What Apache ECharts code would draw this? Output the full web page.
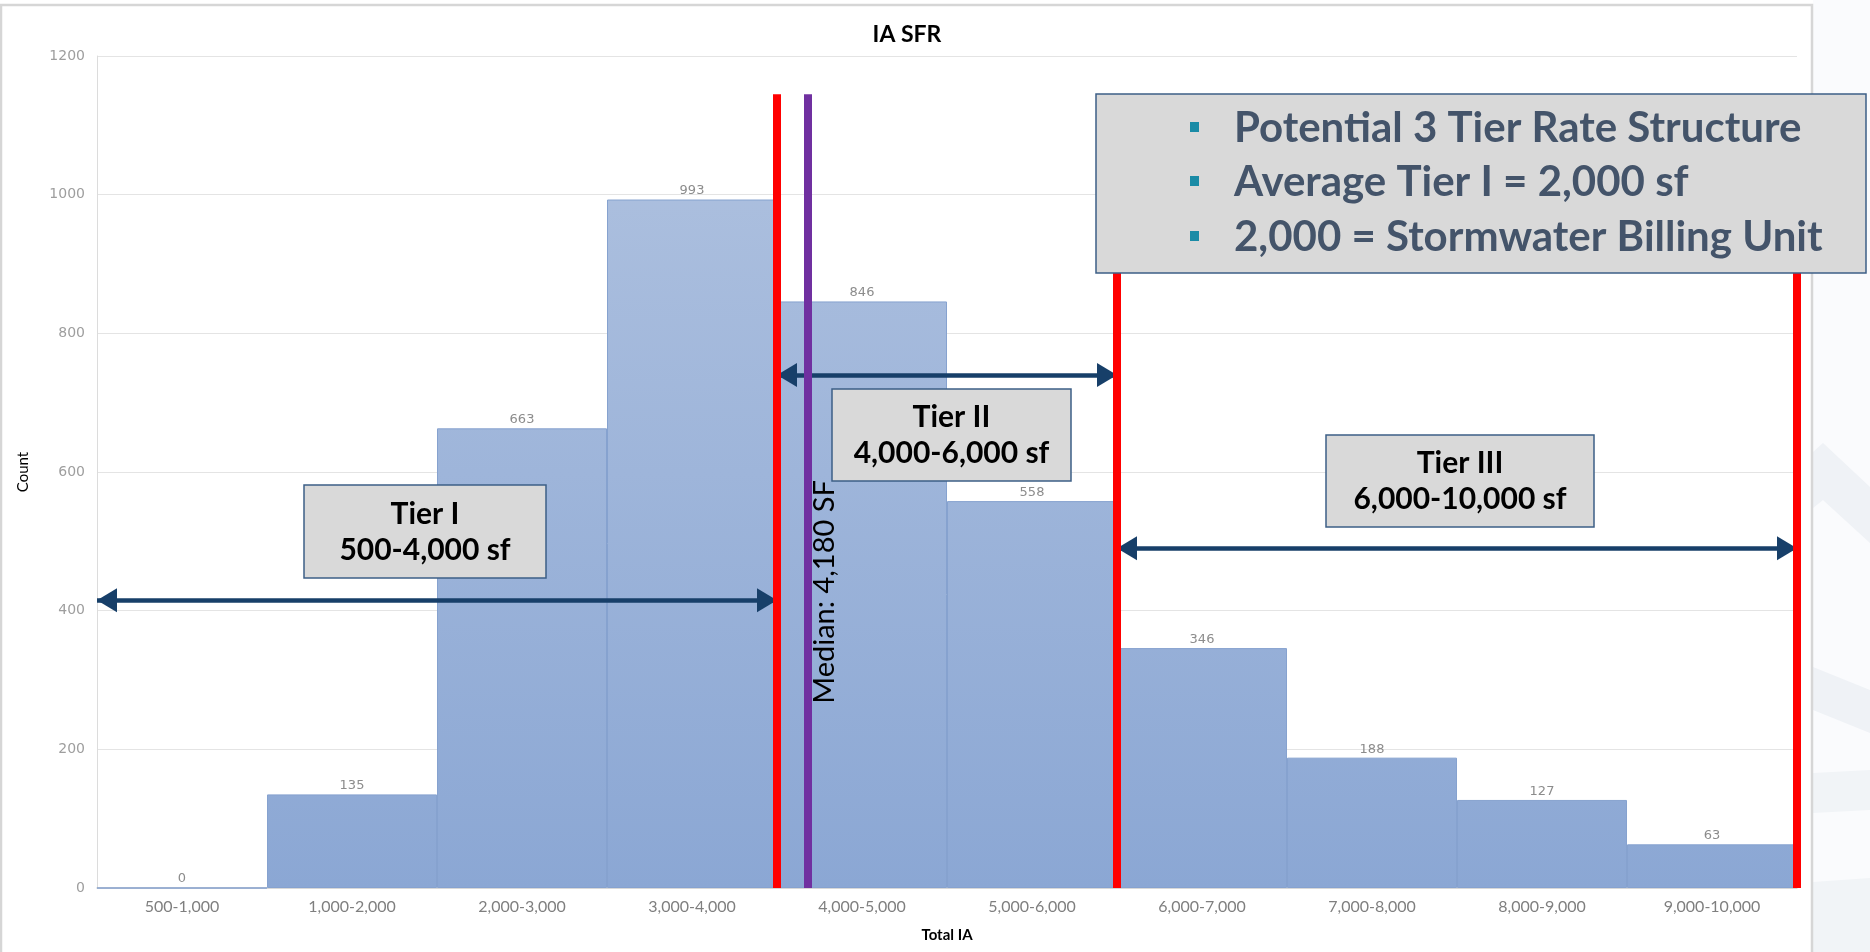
<!DOCTYPE html>
<html>
<head>
<meta charset="utf-8">
<title>IA SFR</title>
<script src="https://cdn.jsdelivr.net/npm/echarts@6/dist/echarts.min.js"></script>
<style>
  html, body { margin: 0; padding: 0; background: #ffffff; }
  #chart { width: 1870px; height: 952px; }
</style>
</head>
<body>
<div id="chart"></div>
<script>
// Impervious-area bins for single family residential parcels
const categories = ['500-1,000', '1,000-2,000', '2,000-3,000', '3,000-4,000', '4,000-5,000',
                    '5,000-6,000', '6,000-7,000', '7,000-8,000', '8,000-9,000', '9,000-10,000'];
const counts = [0, 135, 663, 993, 846, 558, 346, 188, 127, 63];

// Count axis
const countMin = 0;
const countMax = 1200;
const countStep = 200;

// Square-feet scale laid over the bins (each bin spans 1,000 sf)
const sfMin = 0;
const sfMax = 10000;

// Tier boundaries (sf) and the median parcel size (sf)
const tierBounds = [4000, 6000, 10000];
const medianSF = 4180;
const markerTop = 1145;

// Tier span arrows: start sf, end sf, height on the count axis
const tierStart = [0, 4000, 6000];
const tierEnd = [4000, 6000, 10000];
const tierArrowLevel = [415, 740, 490];

// Annotation texts
const tierNames = ['Tier I', 'Tier II', 'Tier III'];
const tierRanges = ['500-4,000 sf', '4,000-6,000 sf', '6,000-10,000 sf'];
const notes = ['Potential 3 Tier Rate Structure', 'Average Tier I = 2,000 sf', '2,000 = Stormwater Billing Unit'];
const medianLabel = 'Median: 4,180 SF';

const chart = echarts.init(document.getElementById('chart'), null, { renderer: 'canvas' });

const G = { left: 97, top: 56, width: 1700, height: 832 };

const barFill = new echarts.graphic.LinearGradient(0, G.top, 0, G.top + G.height, [
  { offset: 0, color: '#B1C3E0' },
  { offset: 1, color: '#8BA7D4' }
], true);

const boundaryLines = tierBounds.map(v => [{ coord: [v, 0] }, { coord: [v, markerTop] }]);
const arrowLines = tierStart.map((s, i) => [
  { coord: [s, tierArrowLevel[i]] }, { coord: [tierEnd[i], tierArrowLevel[i]] }
]);

// Annotation boxes (layout only)
const boxStroke = '#3D5F87';
function tierBox(x, y, w, h, i) {
  return [
    { type: 'rect', z: 100, shape: { x: x, y: y, width: w, height: h },
      style: { fill: '#D9D9D9', stroke: boxStroke, lineWidth: 1.5 } },
    { type: 'text', z: 101, x: x + w / 2, y: y + h * 0.31,
      style: { text: tierNames[i], fill: '#000', font: 'bold 30px Lato', align: 'center', verticalAlign: 'middle' } },
    { type: 'text', z: 101, x: x + w / 2, y: y + h * 0.7,
      style: { text: tierRanges[i], fill: '#000', font: 'bold 30px Lato', align: 'center', verticalAlign: 'middle' } }
  ];
}

const noteRows = [127, 181, 236];
const noteElems = [
  { type: 'rect', z: 100, shape: { x: 1096, y: 94, width: 770, height: 179 },
    style: { fill: '#D9D9D9', stroke: boxStroke, lineWidth: 1.5 } }
];
notes.forEach((t, i) => {
  noteElems.push({ type: 'rect', z: 101, shape: { x: 1190, y: noteRows[i] - 5, width: 9, height: 10 },
    style: { fill: '#1A8BA6' } });
  noteElems.push({ type: 'text', z: 101, x: 1234, y: noteRows[i] + 1,
    style: { text: t, fill: '#44546A', font: 'bold 42px Lato', align: 'left', verticalAlign: 'middle' } });
});

// Slide backdrop to the right of the chart frame
const backdrop = [
  { type: 'rect', z: -10, shape: { x: 1813, y: 0, width: 57, height: 952 }, style: { fill: '#FAFBFD' } },
  { type: 'polygon', z: -9, shape: { points: [[1813, 452], [1823, 443], [1870, 487], [1870, 543], [1823, 500], [1813, 508]] }, style: { fill: '#EFF2F6' } },
  { type: 'polygon', z: -9, shape: { points: [[1813, 667], [1870, 690], [1870, 733], [1813, 710]] }, style: { fill: '#EFF2F6' } },
  { type: 'polygon', z: -9, shape: { points: [[1813, 773], [1870, 770], [1870, 810], [1813, 813]] }, style: { fill: '#F1F4F7' } },
  { type: 'polygon', z: -9, shape: { points: [[1813, 882], [1870, 878], [1870, 952], [1813, 952]] }, style: { fill: '#F1F4F7' } },
  { type: 'rect', z: -8, shape: { x: 1, y: 5, width: 1811, height: 960 },
    style: { fill: 'none', stroke: '#D6D6D6', lineWidth: 2.5 } }
];

const arrowSize = [24, 20];

chart.setOption({
  animation: false,
  backgroundColor: '#ffffff',
  title: {
    text: 'IA SFR',
    left: 902,
    textAlign: 'center',
    top: 18,
    textStyle: { fontFamily: 'Lato', fontWeight: 'bold', fontSize: 23, color: '#000' }
  },
  grid: { left: G.left, top: G.top, width: G.width, height: G.height, containLabel: false },
  xAxis: [
    {
      type: 'category',
      data: categories,
      axisTick: { show: false },
      axisLine: { show: true, lineStyle: { color: '#D4D4D4', width: 1.5 } },
      axisLabel: { fontFamily: 'Lato', fontSize: 16, color: '#7F7F7F', margin: 11, interval: 0 },
      name: 'Total IA',
      nameLocation: 'middle',
      nameGap: 40,
      nameTextStyle: { fontFamily: 'Lato', fontWeight: 'bold', fontSize: 15, color: '#000' }
    },
    { type: 'value', min: sfMin, max: sfMax, show: false }
  ],
  yAxis: {
    type: 'value',
    min: countMin,
    max: countMax,
    interval: countStep,
    axisLine: { show: true, lineStyle: { color: '#DCDCDC', width: 1 } },
    axisTick: { show: false },
    splitLine: { lineStyle: { color: '#E4E4E4', width: 1 } },
    axisLabel: { fontFamily: 'DejaVu Sans', fontSize: 14, color: '#9E9E9E', margin: 12,
                 formatter: v => String(v) },
    name: 'Count',
    nameLocation: 'middle',
    nameRotate: 90,
    nameGap: 66,
    nameTextStyle: { fontFamily: 'Lato', fontSize: 15, color: '#000' }
  },
  series: [
    {
      type: 'bar',
      data: counts,
      barCategoryGap: 0,
      barGap: 0,
      z: 2,
      itemStyle: { color: barFill, borderColor: '#86A2CF', borderWidth: 1 },
      label: { show: true, position: 'top', distance: 2, fontFamily: 'DejaVu Sans', fontSize: 13, color: '#8C8C8C' },
      emphasis: { disabled: true },
      silent: true
    },
    {
      // tier span arrows
      type: 'line',
      xAxisIndex: 1,
      data: [],
      z: 3,
      silent: true,
      markLine: {
        silent: true,
        animation: false,
        symbol: ['triangle', 'triangle'],
        symbolSize: arrowSize,
        symbolOffset: [[0, arrowSize[1] / 2], [0, arrowSize[1] / 2]],
        lineStyle: { color: '#173F69', width: 4.5, type: 'solid' },
        label: { show: false },
        emphasis: { disabled: true },
        data: arrowLines
      }
    },
    {
      // tier boundaries
      type: 'line',
      xAxisIndex: 1,
      data: [],
      z: 4,
      silent: true,
      markLine: {
        silent: true,
        animation: false,
        symbol: ['none', 'none'],
        lineStyle: { color: '#FF0000', width: 8, type: 'solid' },
        label: { show: false },
        emphasis: { disabled: true },
        data: boundaryLines
      }
    },
    {
      // median parcel size
      type: 'line',
      xAxisIndex: 1,
      data: [],
      z: 4,
      silent: true,
      markLine: {
        silent: true,
        animation: false,
        symbol: ['none', 'none'],
        lineStyle: { color: '#7030A0', width: 8, type: 'solid' },
        label: { show: false },
        emphasis: { disabled: true },
        data: [[{ coord: [medianSF, 0] }, { coord: [medianSF, markerTop] }]]
      }
    }
  ]
});

// Place the median caption beside the median line
const medX = chart.convertToPixel({ xAxisIndex: 1 }, medianSF);

chart.setOption({
  graphic: [].concat(
    backdrop,
    tierBox(304, 485, 242, 93, 0),
    tierBox(832, 389, 239, 92, 1),
    tierBox(1326, 435, 268, 92, 2),
    noteElems,
    [{
      type: 'text', z: 101, x: medX + 17, y: 592, rotation: Math.PI / 2,
      style: { text: medianLabel, fill: '#000', font: '29px Lato', align: 'center', verticalAlign: 'middle' }
    }]
  )
});
</script>
</body>
</html>
